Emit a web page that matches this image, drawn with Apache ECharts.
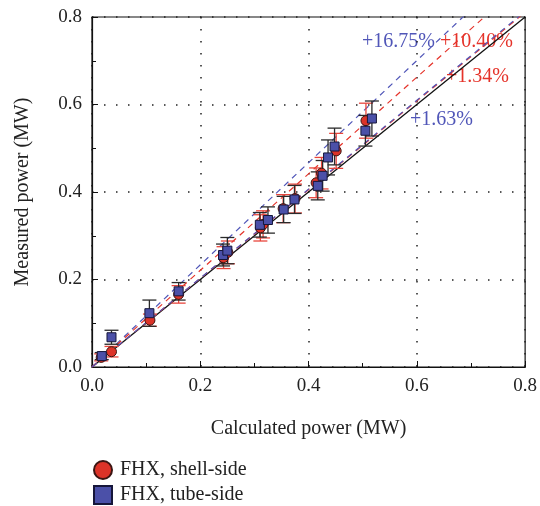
<!DOCTYPE html>
<html>
<head>
<meta charset="utf-8">
<script src="https://cdn.jsdelivr.net/npm/echarts@6/dist/echarts.min.js"></script>
<style>
html, body { margin: 0; padding: 0; background: #fff; }
#main { width: 540px; height: 506px; }
</style>
</head>
<body>
<div id="main"></div>
<script>
// shell-side points (red circles)
var shellX = [0.017, 0.036, 0.107, 0.160, 0.243, 0.251, 0.311, 0.316, 0.353, 0.375, 0.414, 0.424, 0.451, 0.506];
var shellY = [0.022, 0.035, 0.107, 0.166, 0.250, 0.262, 0.318, 0.326, 0.362, 0.385, 0.421, 0.443, 0.494, 0.563];
var shellErr = [0.008, 0.012, 0.014, 0.020, 0.025, 0.026, 0.030, 0.031, 0.032, 0.033, 0.034, 0.036, 0.040, 0.040];

// tube-side points (blue squares)
var tubeX = [0.018, 0.036, 0.106, 0.160, 0.242, 0.250, 0.310, 0.325, 0.354, 0.374, 0.417, 0.426, 0.436, 0.448, 0.505, 0.517];
var tubeY = [0.025, 0.068, 0.123, 0.173, 0.256, 0.266, 0.325, 0.336, 0.360, 0.383, 0.414, 0.437, 0.479, 0.504, 0.540, 0.568];
var tubeErr = [0.008, 0.016, 0.030, 0.020, 0.025, 0.030, 0.028, 0.030, 0.030, 0.032, 0.032, 0.035, 0.040, 0.042, 0.035, 0.040];

// reference lines: slope 1 and fitted offsets
var fitNames = ['+16.75%', '+10.40%', '+1.34%', '+1.63%'];
var fitSlopes = [1.1675, 1.1040, 1.0134, 1.0163];
var fitColors = ['#5056b8', '#e5332a', '#e5332a', '#5056b8'];

var axisTicks = [0, 0.2, 0.4, 0.6, 0.8];

var serif = '"Liberation Serif", "DejaVu Serif", serif';
var red = '#dc3328';
var blue = '#4b50a8';

function zip(xs, ys, es) {
	var out = [];
	for (var i = 0; i < xs.length; i++) {
		out.push(es ? [xs[i], ys[i], es[i]] : [xs[i], ys[i]]);
	}
	return out;
}

function errorBars(color) {
	return function (params, api) {
		var x = api.value(0), y = api.value(1), e = api.value(2);
		var top = api.coord([x, y + e]);
		var bot = api.coord([x, y - e]);
		var w = 7;
		var st = { stroke: color, lineWidth: 1.3 };
		return {
			type: 'group',
			children: [
				{ type: 'line', shape: { x1: top[0], y1: top[1], x2: bot[0], y2: bot[1] }, style: st },
				{ type: 'line', shape: { x1: top[0] - w, y1: top[1], x2: top[0] + w, y2: top[1] }, style: st },
				{ type: 'line', shape: { x1: bot[0] - w, y1: bot[1], x2: bot[0] + w, y2: bot[1] }, style: st }
			]
		};
	};
}

var series = [];

// black 1:1 line
series.push({
	type: 'line', name: 'ideal', data: [[0, 0], [0.8, 0.8]],
	symbol: 'none', silent: true, z: 3,
	lineStyle: { color: '#111', width: 1.3 }
});

for (var i = 0; i < fitSlopes.length; i++) {
	series.push({
		type: 'line', name: fitNames[i], data: [[0, 0], [0.8, 0.8 * fitSlopes[i]]],
		symbol: 'none', silent: true, clip: true, z: 3,
		lineStyle: { color: fitColors[i], width: 1.2, type: [6, 5] }
	});
}

series.push({
	type: 'custom', name: 'shellErr', renderItem: errorBars('#e8453c'),
	data: zip(shellX, shellY, shellErr), z: 4, silent: true
});
series.push({
	type: 'custom', name: 'tubeErr', renderItem: errorBars('#2a2a2a'),
	data: zip(tubeX, tubeY, tubeErr), z: 4, silent: true
});
series.push({
	type: 'scatter', name: 'FHX, shell-side', data: zip(shellX, shellY),
	symbol: 'circle', symbolSize: 10, z: 5,
	itemStyle: { color: red, borderColor: '#3b1512', borderWidth: 1, opacity: 1 }
});
series.push({
	type: 'scatter', name: 'FHX, tube-side', data: zip(tubeX, tubeY),
	symbol: 'rect', symbolSize: 9, z: 6,
	itemStyle: { color: blue, borderColor: '#16163a', borderWidth: 1, opacity: 1 }
});

function axisCfg(name, gap) {
	return {
		type: 'value', min: axisTicks[0], max: axisTicks[axisTicks.length - 1], interval: 0.2,
		name: name, nameLocation: 'middle', nameGap: gap,
		nameTextStyle: { fontFamily: serif, fontSize: 20, color: '#222' },
		axisLine: { show: true, lineStyle: { color: '#111', width: 1.2 } },
		axisTick: { show: true, inside: true, length: 6, lineStyle: { color: '#111' } },
		minorTick: { show: true, splitNumber: 2, length: 4, lineStyle: { color: '#111' } },
		axisLabel: {
			fontFamily: serif, fontSize: 19, color: '#222', margin: 10,
			formatter: function (v) { return v.toFixed(1); }
		},
		splitLine: { show: true, lineStyle: { color: '#222', width: 1.5, type: [1.5, 10.5] } }
	};
}

function legendCfg(name, top) {
	return {
		data: [name], orient: 'vertical', left: 93, top: top, padding: 0,
		itemWidth: 18, itemHeight: 18,
		textStyle: { fontFamily: serif, fontSize: 20, color: '#222', padding: [0, 0, 0, 3] }
	};
}

var chart = echarts.init(document.getElementById('main'));
chart.setOption({
	animation: false,
	backgroundColor: '#fff',
	grid: { left: 92, right: 14, top: 17, bottom: 139, show: true, borderColor: '#111', borderWidth: 1.2, backgroundColor: 'transparent' },
	xAxis: axisCfg('Calculated power (MW)', 52),
	yAxis: axisCfg('Measured power (MW)', 59),
	legend: [legendCfg('FHX, shell-side', 460), legendCfg('FHX, tube-side', 485)],
	graphic: [
		{ type: 'text', left: 362, top: 32, style: { text: '+16.75%', fill: '#5056b8', font: '20px ' + serif } },
		{ type: 'text', left: 440, top: 32, style: { text: '+10.40%', fill: '#e5332a', font: '20px ' + serif } },
		{ type: 'text', left: 446, top: 67, style: { text: '+1.34%', fill: '#e5332a', font: '20px ' + serif } },
		{ type: 'text', left: 410, top: 110, style: { text: '+1.63%', fill: '#5056b8', font: '20px ' + serif } }
	],
	series: series
});
</script>
</body>
</html>
